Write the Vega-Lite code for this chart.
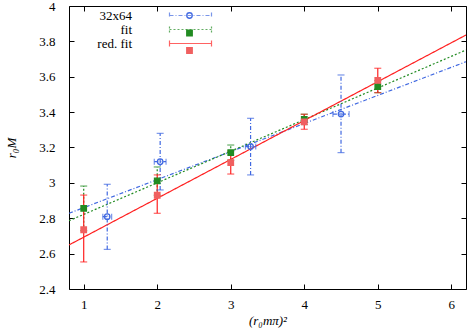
{
  "$schema": "https://vega.github.io/schema/vega-lite/v6.json",
  "width": 397,
  "height": 283,
  "autosize": {"type": "none"},
  "padding": {"left": 69, "top": 6, "right": 1, "bottom": 45},
  "config": {
    "view": {"stroke": "#000", "strokeWidth": 1},
    "font": "Liberation Serif",
    "axis": {"grid": false, "domain": false, "tickColor": "#000", "tickSize": -5, "labelColor": "#000", "labelFontSize": 13, "labelFont": "Liberation Serif", "titleFont": "Liberation Serif", "titleFontWeight": "normal", "titleFontStyle": "italic", "titleFontSize": 13, "titleColor": "#000"}
  },
  "datasets": {
    "pts": [
      {"series": "32x64", "x": 1.32, "y": 2.809, "ylo": 2.624, "yhi": 2.992, "xlo": 1.26, "xhi": 1.38},
      {"series": "32x64", "x": 2.04, "y": 3.12, "ylo": 2.96, "yhi": 3.28, "xlo": 1.96, "xhi": 2.12},
      {"series": "32x64", "x": 3.27, "y": 3.205, "ylo": 3.045, "yhi": 3.365, "xlo": 3.2, "xhi": 3.34},
      {"series": "32x64", "x": 4.5, "y": 3.389, "ylo": 3.171, "yhi": 3.61, "xlo": 4.39, "xhi": 4.61},
      {"series": "fit", "x": 1, "y": 2.856, "ylo": 2.73, "yhi": 2.982},
      {"series": "fit", "x": 2, "y": 3.011, "ylo": 2.93, "yhi": 3.09},
      {"series": "fit", "x": 3, "y": 3.171, "ylo": 3.128, "yhi": 3.214},
      {"series": "fit", "x": 4, "y": 3.359, "ylo": 3.33, "yhi": 3.388},
      {"series": "fit", "x": 5, "y": 3.544, "ylo": 3.51, "yhi": 3.578},
      {"series": "red. fit", "x": 1, "y": 2.735, "ylo": 2.553, "yhi": 2.931},
      {"series": "red. fit", "x": 2, "y": 2.93, "ylo": 2.828, "yhi": 3.045},
      {"series": "red. fit", "x": 3, "y": 3.115, "ylo": 3.05, "yhi": 3.18},
      {"series": "red. fit", "x": 4, "y": 3.345, "ylo": 3.303, "yhi": 3.388},
      {"series": "red. fit", "x": 5, "y": 3.58, "ylo": 3.51, "yhi": 3.648}
    ],
    "lines": [
      {"series": "32x64", "x": 0.8, "y": 2.828},
      {"series": "32x64", "x": 6.2, "y": 3.685},
      {"series": "fit", "x": 0.8, "y": 2.786},
      {"series": "fit", "x": 6.2, "y": 3.751},
      {"series": "red. fit", "x": 0.8, "y": 2.649},
      {"series": "red. fit", "x": 6.2, "y": 3.836}
    ]
  },
  "resolve": {"axis": {"x": "independent", "y": "independent"}},
  "layer": [
    {
      "data": {"name": "lines"},
      "mark": {"type": "line", "strokeWidth": 1.2, "clip": true},
      "encoding": {
        "x": {"field": "x", "type": "quantitative", "scale": {"domain": [0.8, 6.2], "nice": false, "zero": false},
              "axis": {"orient": "bottom", "values": [1, 2, 3, 4, 5, 6], "labelPadding": 14, "title": "(r₀mπ)²", "titlePadding": 3}},
        "y": {"field": "y", "type": "quantitative", "scale": {"domain": [2.4, 4], "nice": false, "zero": false},
              "axis": {"orient": "left", "values": [2.4, 2.6, 2.8, 3, 3.2, 3.4, 3.6, 3.8, 4], "format": "~g", "labelPadding": 19, "title": "r₀M", "titlePadding": 20}},
        "color": {"field": "series", "type": "nominal",
                  "scale": {"domain": ["32x64", "fit", "red. fit"], "range": ["#4169e1", "#228b22", "#ff2020"]},
                  "legend": {
                    "title": null, "orient": "none", "legendX": 115, "legendY": 3,
                    "symbolType": "M-7.67,0H7.67M-7.67,-1.1V1.1M7.67,-1.1V1.1",
                    "symbolSize": 1764, "symbolStrokeWidth": 1.2, "symbolOpacity": 1,
                    "labelAlign": "right", "labelOffset": -65, "labelFontSize": 13, "labelFont": "Liberation Serif", "labelColor": "#000",
                    "rowPadding": -26
                  }},
        "strokeDash": {"field": "series", "type": "nominal", "scale": {"domain": ["32x64", "fit", "red. fit"], "range": [[4, 2, 1, 2], [2, 2], [1, 0]]}}
      }
    },
    {
      "data": {"name": "pts"},
      "mark": {"type": "rule", "strokeWidth": 1.2},
      "encoding": {
        "x": {"field": "x", "type": "quantitative", "axis": {"orient": "top", "values": [1, 2, 3, 4, 5, 6], "labels": false, "title": null}},
        "y": {"field": "ylo", "type": "quantitative", "axis": {"orient": "right", "values": [2.4, 2.6, 2.8, 3, 3.2, 3.4, 3.6, 3.8, 4], "labels": false, "title": null}},
        "y2": {"field": "yhi"},
        "color": {"field": "series", "type": "nominal"},
        "strokeDash": {"field": "series", "type": "nominal"}
      }
    },
    {
      "data": {"name": "pts"},
      "mark": {"type": "tick", "orient": "horizontal", "size": 7, "thickness": 1.2},
      "encoding": {
        "x": {"field": "x", "type": "quantitative", "axis": null},
        "y": {"field": "ylo", "type": "quantitative", "axis": null},
        "color": {"field": "series", "type": "nominal"}
      }
    },
    {
      "data": {"name": "pts"},
      "mark": {"type": "tick", "orient": "horizontal", "size": 7, "thickness": 1.2},
      "encoding": {
        "x": {"field": "x", "type": "quantitative", "axis": null},
        "y": {"field": "yhi", "type": "quantitative", "axis": null},
        "color": {"field": "series", "type": "nominal"}
      }
    },
    {
      "data": {"name": "pts"},
      "transform": [{"filter": "isValid(datum.xlo)"}],
      "mark": {"type": "rule", "strokeWidth": 1.2, "strokeDash": [4, 2, 1, 2]},
      "encoding": {
        "x": {"field": "xlo", "type": "quantitative", "axis": null},
        "x2": {"field": "xhi"},
        "y": {"field": "y", "type": "quantitative", "axis": null},
        "color": {"field": "series", "type": "nominal"}
      }
    },
    {
      "data": {"name": "pts"},
      "transform": [{"filter": "isValid(datum.xlo)"}],
      "mark": {"type": "tick", "orient": "vertical", "size": 6, "thickness": 1.2},
      "encoding": {
        "x": {"field": "xlo", "type": "quantitative", "axis": null},
        "y": {"field": "y", "type": "quantitative", "axis": null},
        "color": {"field": "series", "type": "nominal"}
      }
    },
    {
      "data": {"name": "pts"},
      "transform": [{"filter": "isValid(datum.xlo)"}],
      "mark": {"type": "tick", "orient": "vertical", "size": 6, "thickness": 1.2},
      "encoding": {
        "x": {"field": "xhi", "type": "quantitative", "axis": null},
        "y": {"field": "y", "type": "quantitative", "axis": null},
        "color": {"field": "series", "type": "nominal"}
      }
    },
    {
      "data": {"name": "pts"},
      "mark": {"type": "point", "strokeWidth": 1.3, "opacity": 1},
      "encoding": {
        "x": {"field": "x", "type": "quantitative", "axis": null},
        "y": {"field": "y", "type": "quantitative", "axis": null},
        "shape": {"field": "series", "type": "nominal", "scale": {"range": ["circle", "square", "square"]},
                  "legend": {"title": null, "orient": "none", "legendX": 114, "legendY": 3, "symbolSize": 30, "symbolStrokeWidth": 1.3, "symbolOpacity": 1, "labelOpacity": 0, "labelFontSize": 13, "rowPadding": 3.5}},
        "size": {"field": "series", "type": "nominal", "scale": {"domain": ["32x64", "fit", "red. fit"], "range": [30, 30, 30]}, "legend": null},
        "fill": {"field": "series", "type": "nominal", "scale": {"range": ["transparent", "#228b22", "#f06060"]}},
        "stroke": {"field": "series", "type": "nominal", "scale": {"range": ["#4169e1", "#228b22", "#f06060"]}}
      }
    }
  ]
}
